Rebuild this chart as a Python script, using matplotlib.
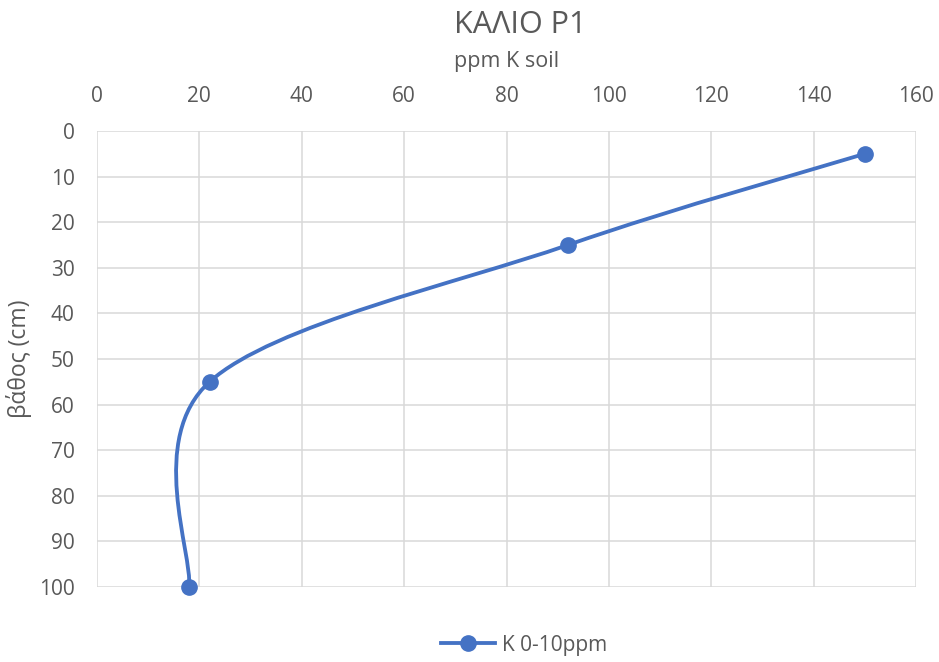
import matplotlib
matplotlib.use("Agg")
import matplotlib.pyplot as plt
from matplotlib.path import Path
from matplotlib.patches import PathPatch
from matplotlib.lines import Line2D

plt.rcParams['font.family'] = ['Open Sans', 'DejaVu Sans']

ppm = [150, 92, 22, 18]
depth = [5, 25, 55, 100]
series_name = "K 0-10ppm"
title = "ΚΑΛΙΟ P1"
xlabel = "ppm K soil"
ylabel = "βάθος (cm)"
xticks = [0, 20, 40, 60, 80, 100, 120, 140, 160]
yticks = [0, 10, 20, 30, 40, 50, 60, 70, 80, 90, 100]

color = '#4472C4'
txt = '#595959'
grid = '#D9D9D9'

fig = plt.figure(figsize=(9.39, 6.62), dpi=100)
ax = fig.add_axes([97/939, 1-587/662, (916-97)/939, (587-131)/662])

# Excel-like smooth curve (Catmull-Rom cubic Bezier)
pts = list(zip(ppm, depth))
n = len(pts)
verts = [pts[0]]
codes = [Path.MOVETO]
for i in range(n-1):
    p0 = pts[i-1] if i > 0 else pts[i]
    p1 = pts[i]
    p2 = pts[i+1]
    p3 = pts[i+2] if i+2 < n else pts[i+1]
    c1 = (p1[0] + (p2[0]-p0[0])/6, p1[1] + (p2[1]-p0[1])/6)
    c2 = (p2[0] - (p3[0]-p1[0])/6, p2[1] - (p3[1]-p1[1])/6)
    verts += [c1, c2, p2]
    codes += [Path.CURVE4]*3
ax.add_patch(PathPatch(Path(verts, codes), facecolor='none', edgecolor=color,
                       lw=2.75, capstyle='round', zorder=3, clip_on=False))
ax.plot(ppm, depth, linestyle='none', marker='o', ms=11, color=color,
        zorder=4, clip_on=False)

ax.set_xlim(0, 160)
ax.set_ylim(100, 0)
ax.set_xticks(xticks)
ax.set_yticks(yticks)
ax.xaxis.tick_top()
ax.tick_params(length=0, labelsize=15, labelcolor=txt)
ax.tick_params(axis='x', pad=17)
ax.tick_params(axis='y', pad=16)
ax.grid(True, color=grid, lw=1.1)
ax.set_axisbelow(True)
for s in ax.spines.values():
    s.set_visible(False)

fig.text(520/939, 1-25/662, title, ha='center', va='center', fontsize=22, color=txt)
fig.text(507/939, 1-61/662, xlabel, ha='center', va='center', fontsize=15.5, color=txt)
ax.set_ylabel(ylabel, fontsize=16.5, color=txt, labelpad=5)

handle = Line2D([], [], color=color, lw=2.75, marker='o', ms=11)
fig.legend([handle], [series_name], loc='center', bbox_to_anchor=(524/939, 1-645/662),
           frameon=False, fontsize=15, labelcolor=txt, handlelength=2.6, handletextpad=0.3)

fig.savefig('out.png', dpi=100)
